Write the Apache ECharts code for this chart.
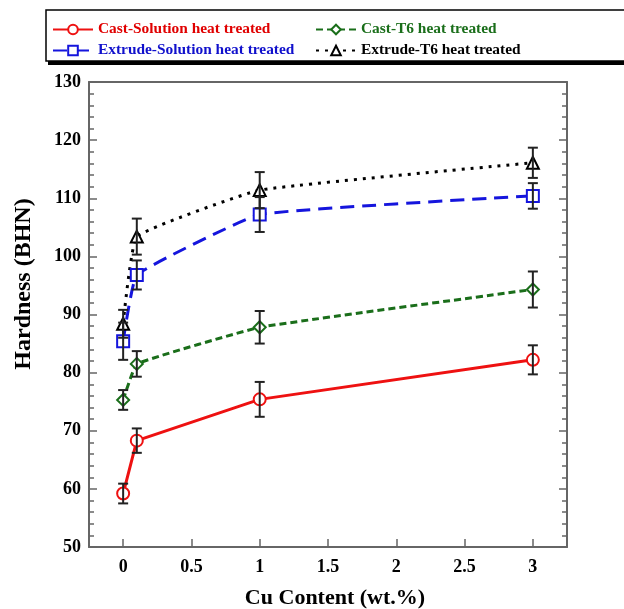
<!DOCTYPE html>
<html>
<head>
<meta charset="utf-8">
<script src="https://cdn.jsdelivr.net/npm/echarts@6/dist/echarts.min.js"></script>
<style>html,body{margin:0;padding:0;background:#fff}#c{width:624px;height:609px}</style>
</head>
<body>
<div id="c"></div>
<script>
var cuContent = [0, 0.1, 1, 3];
var castSolution = [59.2, 68.3, 75.4, 82.2];
var castSolutionErr = [1.7, 2.1, 3.0, 2.5];
var castT6 = [75.3, 81.5, 87.8, 94.3];
var castT6Err = [1.7, 2.2, 2.8, 3.1];
var extrudeSolution = [85.4, 96.8, 107.2, 110.4];
var extrudeSolutionErr = [3.2, 2.5, 3.0, 2.2];
var extrudeT6 = [88.4, 103.4, 111.4, 116.1];
var extrudeT6Err = [2.4, 3.1, 3.1, 2.6];
var seriesNames = ['Cast-Solution heat treated', 'Extrude-Solution heat treated', 'Cast-T6 heat treated', 'Extrude-T6 heat treated'];
var xTicks = [0, 0.5, 1, 1.5, 2, 2.5, 3];
var yTicks = [50, 60, 70, 80, 90, 100, 110, 120, 130];
var xTitle = 'Cu Content (wt.%)';
var yTitle = 'Hardness (BHN)';

var FONT = '"Liberation Serif", "Times New Roman", serif';
function pairs(v){ return cuContent.map(function(x,i){ return [x, v[i]]; }); }
function errData(v,e){ return cuContent.map(function(x,i){ return [x, v[i]-e[i], v[i]+e[i]]; }); }

function lineSeries(name, vals, color, type, symbol, smooth){
  return {
    name: name, type: 'line', data: pairs(vals), smooth: smooth,
    symbol: symbol, symbolSize: 12, showSymbol: true,
    lineStyle: {color: color, width: 3, type: type},
    itemStyle: {color: color, borderColor: color, borderWidth: 1},
    z: 3
  };
}
function errSeries(vals, errs){
  return {
    type: 'custom', data: errData(vals, errs), z: 5, silent: true,
    renderItem: function(params, api){
      var x = api.value(0);
      var lo = api.coord([x, api.value(1)]);
      var hi = api.coord([x, api.value(2)]);
      var w = 5;
      var st = {stroke: '#222', lineWidth: 2};
      return {type: 'group', children: [
        {type: 'line', shape: {x1: lo[0], y1: lo[1], x2: hi[0], y2: hi[1]}, style: st},
        {type: 'line', shape: {x1: lo[0]-w, y1: lo[1], x2: lo[0]+w, y2: lo[1]}, style: st},
        {type: 'line', shape: {x1: hi[0]-w, y1: hi[1], x2: hi[0]+w, y2: hi[1]}, style: st}
      ]};
    }
  };
}

var axisColor = '#666';
var labelStyle = {fontFamily: FONT, fontWeight: 'bold', fontSize: 18, color: '#000'};

var chart = echarts.init(document.getElementById('c'), null, {renderer: 'canvas'});
chart.setOption({
  animation: false,
  backgroundColor: '#fff',
  grid: {left: 89, right: 57, top: 82, bottom: 62, containLabel: false},
  graphic: [
    {type: 'rect', shape: {x: 48, y: 13, width: 600, height: 52}, style: {fill: '#000'}, z: 0},
    {type: 'rect', shape: {x: 46, y: 10, width: 600, height: 51}, style: {fill: '#fff', stroke: '#000', lineWidth: 1.5}, z: 1},
    {type: 'text', x: 335, y: 598, z: 10,
      style: {text: xTitle, fontFamily: FONT, fontWeight: 'bold', fontSize: 22, fill: '#000', align: 'center', verticalAlign: 'middle'}},
    {type: 'text', x: 24, y: 284, rotation: Math.PI / 2, z: 10,
      style: {text: yTitle, fontFamily: FONT, fontWeight: 'bold', fontSize: 24, fill: '#000', align: 'center', verticalAlign: 'middle'}}
  ],
  legend: [
    {
      orient: 'vertical', left: 47, top: 17, itemGap: 6, itemWidth: 40, itemHeight: 12,
      data: [
        {name: seriesNames[0], textStyle: {color: '#e00000'}},
        {name: seriesNames[1], textStyle: {color: '#1010cc'}}
      ],
      textStyle: {fontFamily: FONT, fontWeight: 'bold', fontSize: 15.4}, z: 10
    },
    {
      orient: 'vertical', left: 310, top: 17, itemGap: 6, itemWidth: 40, itemHeight: 12,
      data: [
        {name: seriesNames[2], textStyle: {color: '#1a6e1a'}},
        {name: seriesNames[3], textStyle: {color: '#000'}}
      ],
      textStyle: {fontFamily: FONT, fontWeight: 'bold', fontSize: 15.4}, z: 10
    }
  ],
  xAxis: [
    {
      type: 'value', min: -0.25, max: 3.25, interval: 0.5,
      axisLine: {show: true, onZero: false, lineStyle: {color: axisColor, width: 2}},
      axisTick: {show: true, inside: true, length: 8, lineStyle: {color: axisColor, width: 1.5},
        customValues: xTicks},
      axisLabel: {fontFamily: FONT, fontWeight: 'bold', fontSize: 18, color: '#000', margin: 11,
        customValues: xTicks,
        formatter: function(v){ return String(v); }},
      splitLine: {show: false}
    },
    {
      type: 'value', position: 'top', min: -0.25, max: 3.25, interval: 0.5,
      axisLine: {show: true, onZero: false, lineStyle: {color: axisColor, width: 2}},
      axisTick: {show: false}, axisLabel: {show: false}, splitLine: {show: false}
    }
  ],
  yAxis: [
    {
      type: 'value', min: 50, max: 130, interval: 10,
      axisLine: {show: true, onZero: false, lineStyle: {color: axisColor, width: 2}},
      axisTick: {show: true, inside: true, length: 8, lineStyle: {color: axisColor, width: 1.5}},
      minorTick: {show: true, splitNumber: 5, length: 5, lineStyle: {color: axisColor, width: 1.5}},
      axisLabel: labelStyle,
      splitLine: {show: false}
    },
    {
      type: 'value', position: 'right', min: 50, max: 130, interval: 10,
      axisLine: {show: true, onZero: false, lineStyle: {color: axisColor, width: 2}},
      axisTick: {show: true, inside: true, length: 8, lineStyle: {color: axisColor, width: 1.5}},
      minorTick: {show: true, splitNumber: 5, length: 5, lineStyle: {color: axisColor, width: 1.5}},
      axisLabel: {show: false}, splitLine: {show: false}
    }
  ],
  series: [
    lineSeries(seriesNames[0], castSolution, '#ee1111', 'solid', 'emptyCircle', false),
    lineSeries(seriesNames[1], extrudeSolution, '#1515dd', [14, 8], 'emptyRect', 0.1),
    lineSeries(seriesNames[2], castT6, '#1a6e1a', [7, 4], 'emptyDiamond', 0.08),
    lineSeries(seriesNames[3], extrudeT6, '#000000', [3, 6], 'emptyTriangle', 0.1),
    errSeries(castSolution, castSolutionErr),
    errSeries(extrudeSolution, extrudeSolutionErr),
    errSeries(castT6, castT6Err),
    errSeries(extrudeT6, extrudeT6Err)
  ]
});
</script>
</body>
</html>
